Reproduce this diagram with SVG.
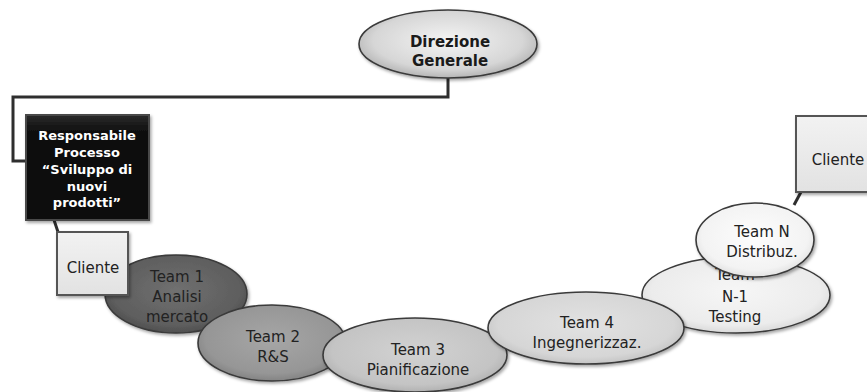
<svg xmlns="http://www.w3.org/2000/svg" width="867" height="392" viewBox="0 0 867 392">
<defs>
<style>
.t{font-family:"DejaVu Sans",Verdana,sans-serif;font-size:15px;fill:#222;text-anchor:middle}
.b{font-family:"DejaVu Sans",Verdana,sans-serif;font-weight:bold;text-anchor:middle}
.el{stroke:#3a3a3a;stroke-width:1.6}
.box{stroke:#555;stroke-width:2}
.conn{fill:none;stroke:#2e2e2e;stroke-width:3}
</style>
<filter id="sh" x="-10%" y="-10%" width="125%" height="130%">
<feDropShadow dx="1.5" dy="2" stdDeviation="1.5" flood-color="#000" flood-opacity="0.35"/>
</filter>
<radialGradient id="g0" cx="50%" cy="45%" r="60%"><stop offset="0" stop-color="#f4f4f4"/><stop offset="0.7" stop-color="#d6d6d6"/><stop offset="1" stop-color="#a8a8a8"/></radialGradient>
<radialGradient id="g1" cx="50%" cy="45%" r="60%"><stop offset="0" stop-color="#707070"/><stop offset="0.75" stop-color="#5e5e5e"/><stop offset="1" stop-color="#484848"/></radialGradient>
<radialGradient id="g2" cx="50%" cy="45%" r="60%"><stop offset="0" stop-color="#a6a6a6"/><stop offset="0.75" stop-color="#969696"/><stop offset="1" stop-color="#7a7a7a"/></radialGradient>
<radialGradient id="g3" cx="50%" cy="45%" r="60%"><stop offset="0" stop-color="#d2d2d2"/><stop offset="0.75" stop-color="#c4c4c4"/><stop offset="1" stop-color="#a8a8a8"/></radialGradient>
<radialGradient id="g4" cx="50%" cy="45%" r="60%"><stop offset="0" stop-color="#e2e2e2"/><stop offset="0.75" stop-color="#d6d6d6"/><stop offset="1" stop-color="#bcbcbc"/></radialGradient>
<radialGradient id="g5" cx="50%" cy="45%" r="60%"><stop offset="0" stop-color="#f6f6f6"/><stop offset="0.75" stop-color="#ececec"/><stop offset="1" stop-color="#d2d2d2"/></radialGradient>
<radialGradient id="g6" cx="50%" cy="45%" r="60%"><stop offset="0" stop-color="#fdfdfd"/><stop offset="0.75" stop-color="#f3f3f3"/><stop offset="1" stop-color="#dadada"/></radialGradient>
<linearGradient id="gb" x1="0" y1="0" x2="0" y2="1"><stop offset="0" stop-color="#f2f2f2"/><stop offset="1" stop-color="#e2e2e2"/></linearGradient>
<linearGradient id="gk" x1="0" y1="0" x2="0" y2="1"><stop offset="0" stop-color="#2a2a2a"/><stop offset="0.15" stop-color="#111"/><stop offset="1" stop-color="#0c0c0c"/></linearGradient>
</defs>
<rect width="867" height="392" fill="#fff"/>

<g id="connectors">
<polyline class="conn" points="448,77 448,97 13,97 13,161 27,161"/>
<line class="conn" x1="53" y1="217" x2="58" y2="232" stroke-width="2"/>
<line class="conn" x1="801" y1="192" x2="794" y2="205" stroke-width="2"/>
</g>

<g id="direzione-generale">
<ellipse class="el" cx="448" cy="44" rx="89" ry="34" fill="url(#g0)" filter="url(#sh)"/>
<text class="b" x="450" y="47" font-size="15" fill="#1a1a1a">Direzione</text>
<text class="b" x="450" y="66" font-size="15" fill="#1a1a1a">Generale</text>
</g>

<g id="responsabile-processo">
<rect x="26" y="115" width="123" height="105" fill="url(#gk)" stroke="#4a4a4a" stroke-width="2" filter="url(#sh)"/>
<text class="b" font-size="13" fill="#fff" x="87" y="140">Responsabile</text>
<text class="b" font-size="13" fill="#fff" x="87" y="157">Processo</text>
<text class="b" font-size="13" fill="#fff" x="87" y="174">“Sviluppo di</text>
<text class="b" font-size="13" fill="#fff" x="87" y="191">nuovi</text>
<text class="b" font-size="13" fill="#fff" x="87" y="207">prodotti”</text>
</g>

<g id="team-1">
<ellipse class="el" cx="176" cy="294" rx="71" ry="39" fill="url(#g1)" filter="url(#sh)"/>
<text class="t" x="177" y="282">Team 1</text>
<text class="t" x="177" y="302">Analisi</text>
<text class="t" x="177" y="322">mercato</text>
</g>

<g id="cliente-1">
<rect class="box" x="57" y="232" width="71" height="63" fill="url(#gb)" filter="url(#sh)"/>
<text class="t" x="93" y="273">Cliente</text>
</g>

<g id="team-2">
<ellipse class="el" cx="272" cy="343" rx="74" ry="38" fill="url(#g2)" filter="url(#sh)"/>
<text class="t" x="273" y="342">Team 2</text>
<text class="t" x="273" y="362">R&amp;S</text>
</g>

<g id="team-3">
<ellipse class="el" cx="415" cy="355" rx="92" ry="37" fill="url(#g3)" filter="url(#sh)"/>
<text class="t" x="418" y="355">Team 3</text>
<text class="t" x="418" y="375">Pianificazione</text>
</g>

<g id="team-n-1">
<ellipse class="el" cx="736" cy="295" rx="94" ry="38" fill="url(#g5)" filter="url(#sh)"/>
<text class="t" x="735" y="280">Team</text>
<text class="t" x="735" y="302">N-1</text>
<text class="t" x="735" y="322">Testing</text>
</g>

<g id="team-4">
<ellipse class="el" cx="586" cy="328" rx="98" ry="36" fill="url(#g4)" filter="url(#sh)"/>
<text class="t" x="587" y="328">Team 4</text>
<text class="t" x="587" y="348">Ingegnerizzaz.</text>
</g>

<g id="team-n">
<ellipse class="el" cx="755" cy="240" rx="59" ry="37" fill="url(#g6)" filter="url(#sh)"/>
<text class="t" x="762" y="237">Team N</text>
<text class="t" x="762" y="257">Distribuz.</text>
</g>

<g id="cliente-2">
<rect class="box" x="796" y="116" width="75" height="76" fill="url(#gb)" filter="url(#sh)"/>
<text class="t" x="838" y="165">Cliente</text>
</g>
</svg>
